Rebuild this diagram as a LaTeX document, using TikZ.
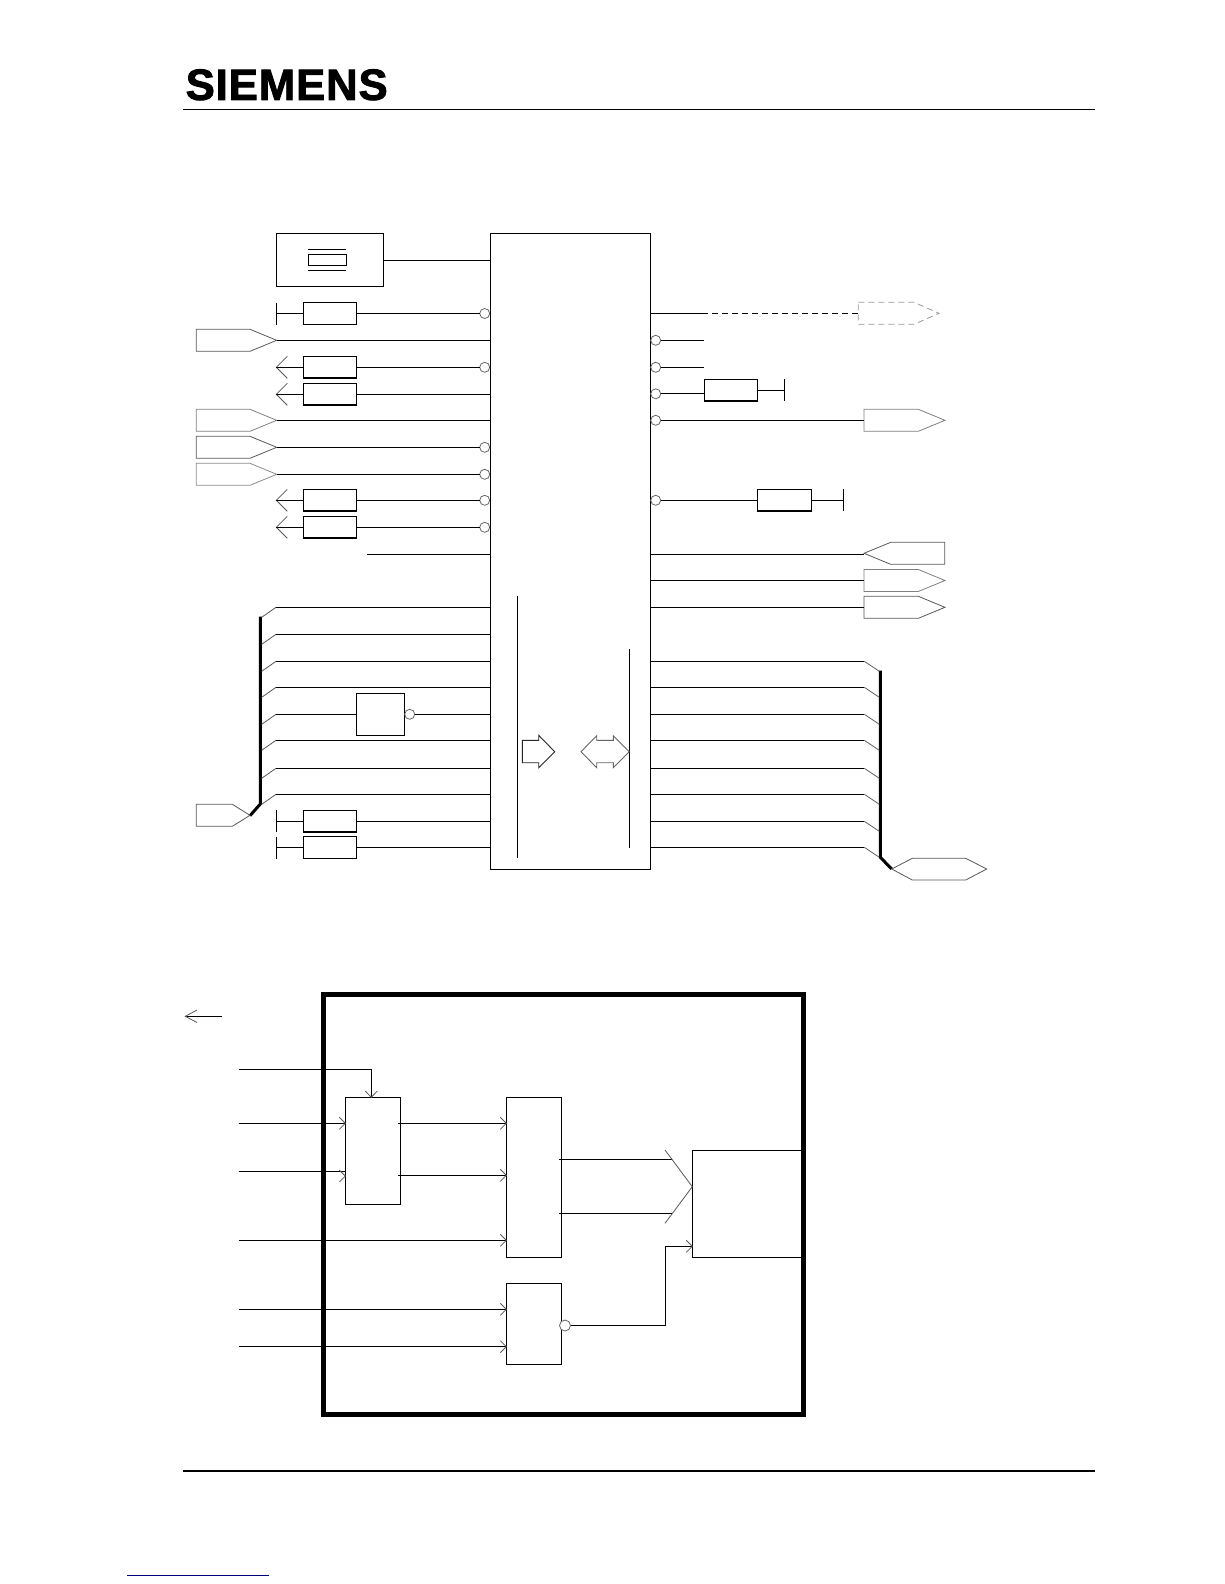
\documentclass[tikz,border=0pt]{standalone}
\usepackage{fontspec}
\usepackage{graphicx}
\setmainfont{Liberation Sans}
\newfontfamily\logofont[UprightFont=* Bold,FakeBold=2,LetterSpace=2]{Liberation Sans}
\tikzset{
  x=1pt,y=-1pt,
  wire/.style={line width=1.1pt,black},
  thinw/.style={line width=0.8pt,black!65},
  thick bus/.style={line width=3pt,black},
  res/.style={draw=black,line width=1.1pt,minimum width=53.4pt,minimum height=21.4pt,inner sep=0pt,outer sep=0pt,fill=white},
  blockbox/.style={draw=black,line width=1.1pt,inner sep=0pt,outer sep=0pt},
  bub/.style={circle,draw=black!60,line width=0.8pt,minimum size=10pt,inner sep=0pt,outer sep=0pt,fill=white},
  bar/.style={line width=1.1pt,black},
  tag/.style={line width=0.8pt,draw=black!65,fill=white,line join=miter},
}
\newcommand{\pentR}[6]{\draw[tag,#6] (#2,#4-11) -- (#3,#4-11) -- (#5,#4) -- (#3,#4+11) -- (#2,#4+11) -- cycle; \coordinate (#1) at (#5,#4); \coordinate (#1w) at (#2,#4);}
\newcommand{\chevL}[3]{\draw[thinw] (#2+11,#3-11) -- (#2,#3) -- (#2+11,#3+11); \coordinate (#1) at (#2,#3);}
\newcommand{\chevR}[3]{\draw[thinw] (#2-6,#3-6) -- (#2,#3) -- (#2-6,#3+6); \coordinate (#1) at (#2,#3);}
\newcommand{\Tbar}[3]{\draw[bar] (#2,#3-11) -- (#2,#3+11); \coordinate (#1) at (#2,#3);}
\begin{document}
\begin{tikzpicture}
\useasboundingbox (0,0) rectangle (1224,1584);
\fill[white] (0,0) rectangle (1224,1584);

% header and footer
\node[anchor=south west,inner sep=0pt] (logo) at (185.5,100.5) {\resizebox{202pt}{!}{\logofont SIEMENS}};
\coordinate (hl) at (183,109.5); \coordinate (hr) at (1095,109.5);
\draw[line width=1.1pt] (hl) -- (hr);
\coordinate (fl) at (183,1471); \coordinate (fr) at (1095,1471);
\draw[line width=2pt] (fl) -- (fr);
\coordinate (ul) at (127,1575); \coordinate (ur) at (269,1575);
\draw[line width=1pt,color=blue!50!black] (ul) -- (ur);

% main block
\node[blockbox,minimum width=160pt,minimum height=636pt,anchor=north west] (main) at (490.3,233.3) {};
\coordinate (vla) at (517.3,596); \coordinate (vlb) at (517.3,858.3);
\coordinate (vra) at (629.3,649.3); \coordinate (vrb) at (629.3,847.7);
\draw[wire] (vla) -- (vlb);
\draw[wire] (vra) -- (vrb);
\draw[line width=0.9pt,black!85,line join=miter] (522.3,740.3) -- (538.7,740.3) -- (538.7,735.3) -- (554.7,751.7) -- (538.7,767.7) -- (538.7,762.7) -- (522.3,762.7) -- cycle;
\draw[line width=0.9pt,black!60,line join=miter] (581,751.7) -- (596.7,735.7) -- (596.7,740.3) -- (613.3,740.3) -- (613.3,735.7) -- (629.3,751.7) -- (613.3,767.7) -- (613.3,762.7) -- (596.7,762.7) -- (596.7,767.7) -- cycle;

% crystal
\node[blockbox,minimum width=107pt,minimum height=53pt,anchor=north west] (xtal) at (276.3,233.3) {};
\node[blockbox,minimum width=38.4pt,minimum height=11.4pt] (xc) at (327.5,260) {};
\coordinate (xp1a) at (308,249.3); \coordinate (xp1b) at (346,249.3);
\coordinate (xp2a) at (308,270.3); \coordinate (xp2b) at (346,270.3);
\draw[wire] (xp1a) -- (xp1b);
\draw[wire] (xp2a) -- (xp2b);
\coordinate (xo) at (383.3,260.5);
\draw[wire] (xo) -- (xo -| main.west);

% left side, row 313
\node[res] (r1) at (330,313.5) {};
\Tbar{b1}{276.3}{313.5}
\node[bub] (c1) at (484.7,313.5) {};
\draw[wire] (b1) -- (r1.west);
\draw[wire] (r1.east) -- (c1.west);
\foreach \yy/\nn in {367.3/c2,447.3/c5,474.3/c6,500.3/c7,527.3/c8}
  \node[bub] (\nn) at (484.7,\yy) {};

% tags left
\pentR{p1}{196.3}{250}{340.3}{276.7}{}
\draw[wire] (p1) -- (p1 -| main.west);
\pentR{p2}{196.3}{250}{420.3}{276.7}{draw=black!50}
\draw[wire] (p2) -- (p2 -| main.west);
\pentR{p3}{196.3}{250}{447.3}{276.7}{}
\draw[wire] (p3) -- (c5.west);
\pentR{p4}{196.3}{250}{474.3}{276.7}{draw=black!45}
\draw[wire] (p4) -- (c6.west);

% left arrows with resistors
\node[res] (r2) at (330,367.3) {};
\chevL{a2}{276.3}{367.3}
\draw[wire] (a2) -- (r2.west);
\draw[wire] (r2.east) -- (c2.west);
\node[res] (r3) at (330,394.3) {};
\chevL{a3}{276.3}{394.3}
\draw[wire] (a3) -- (r3.west);
\draw[wire] (r3.east) -- (r3.east -| main.west);
\node[res] (r4) at (330,500.3) {};
\chevL{a4}{276.3}{500.3}
\draw[wire] (a4) -- (r4.west);
\draw[wire] (r4.east) -- (c7.west);
\node[res] (r5) at (330,527.3) {};
\chevL{a5}{276.3}{527.3}
\draw[wire] (a5) -- (r5.west);
\draw[wire] (r5.east) -- (c8.west);
\coordinate (s1) at (367,554.3);
\draw[wire] (s1) -- (s1 -| main.west);

% left bus
\coordinate (lb1) at (260.3,616.7); \coordinate (lb2) at (260.3,804); \coordinate (lb3) at (250,815.7);
\draw[thick bus,line join=miter] (lb1) -- (lb2) -- (lb3);
\pentR{p5}{196.3}{232.3}{815.3}{250}{}
\foreach \yy [count=\i] in {607.3,634.3,661.3,687.3,714.3,740.3,768.3,794.3}{
  \coordinate (lt\i) at (276,\yy);
  \draw[thinw] (lt\i) -- (261.7,\yy+10);
}
\foreach \i in {1,2,3,4,6,7,8}
  \draw[wire] (lt\i) -- (lt\i -| main.west);
\node[blockbox,minimum width=48.4pt,minimum height=42pt] (inv) at (380.5,714.3) {};
\node[bub] (cinv) at (409.7,714.3) {};
\draw[wire] (lt5) -- (inv.west);
\draw[wire] (cinv.east) -- (cinv.east -| main.west);
\node[res] (r6) at (330,821.3) {};
\Tbar{b6}{276.3}{821.3}
\draw[wire] (b6) -- (r6.west);
\draw[wire] (r6.east) -- (r6.east -| main.west);
\node[res] (r7) at (330,847.5) {};
\Tbar{b7}{276.3}{847.5}
\draw[wire] (b7) -- (r7.west);
\draw[wire] (r7.east) -- (r7.east -| main.west);

% right side
\foreach \yy/\nn in {340.3/d1,367.3/d2,393.8/d3,420.3/d4,500.3/d5}
  \node[bub] (\nn) at (655.7,\yy) {};
\coordinate (q0) at (650.3,313.3); \coordinate (q0b) at (708,313.3);
\draw[wire] (q0) -- (q0b);
\pentR{pd}{858.3}{914}{313.3}{939}{dashed,draw=black!40,dash pattern=on 6pt off 4pt}
\draw[wire,dash pattern=on 6pt off 4pt,dash phase=6pt] (q0b) -- (pdw);
\coordinate (e1) at (703.7,340.3); \coordinate (e2) at (703.7,367.3);
\draw[wire] (d1.east) -- (e1);
\draw[wire] (d2.east) -- (e2);
\node[res] (r8) at (730.8,390.3) {};
\draw[wire] (d3.east) -- (d3.east -| r8.west);
\Tbar{b8}{784.3}{390.3}
\draw[wire] (r8.east) -- (b8);
\pentR{p6}{864}{918.3}{420.3}{945}{draw=black!50}
\draw[wire] (d4.east) -- (d4.east -| p6w);
\node[res] (r9) at (784.5,500.3) {};
\draw[wire] (d5.east) -- (r9.west);
\Tbar{b9}{843.3}{500.3}
\draw[wire] (r9.east) -- (b9);
% reverse tag
\draw[tag] (864,553.3) -- (890.7,542.3) -- (944.7,542.3) -- (944.7,564.3) -- (890.7,564.3) -- cycle;
\coordinate (p7) at (864,554.3);
\draw[wire] (p7) -- (p7 -| main.east);
\pentR{p8}{864}{918.3}{580.5}{945}{draw=black!50}
\draw[wire] (p8w) -- (p8w -| main.east);
\pentR{p9}{864}{918.3}{607.3}{945}{}
\draw[wire] (p9w) -- (p9w -| main.east);

% right bus
\coordinate (rb1) at (880.3,670.7); \coordinate (rb2) at (880.3,857.3); \coordinate (rb3) at (891.7,869);
\draw[thick bus,line join=miter] (rb1) -- (rb2) -- (rb3);
\foreach \yy [count=\i] in {661.3,687.3,714.3,740.3,768.3,794.3,821.3,847.3}{
  \coordinate (rt\i) at (864.3,\yy);
  \draw[wire] (rt\i) -- (rt\i -| main.east);
  \draw[thinw] (rt\i) -- (879.3,\yy+10);
}
\draw[tag] (891.7,869) -- (912.3,858.3) -- (965.7,858.3) -- (986.7,869) -- (965.7,880) -- (912.3,880) -- cycle;

% lower diagram
\node[draw=black,line width=4.6pt,minimum width=479.6pt,minimum height=420pt,inner sep=0pt,outer sep=0pt,anchor=north west] (outer) at (323.7,994.7) {};
\coordinate (lega) at (222.3,1016.3);
\coordinate (legb) at (185.3,1016.3);
\draw[wire] (lega) -- (legb);
\draw[thinw] (197,1010) -- (legb) -- (197,1022.5);

\node[blockbox,minimum width=55.4pt,minimum height=107pt,anchor=north west] (A) at (345.3,1097.3) {};
\node[blockbox,minimum width=55.4pt,minimum height=160pt,anchor=north west] (B) at (506.3,1097.3) {};
\node[blockbox,minimum width=55.4pt,minimum height=81pt,anchor=north west] (C) at (506.3,1283.3) {};
\node[blockbox,minimum width=110.7pt,minimum height=107pt,anchor=north west] (D) at (692.3,1150.3) {};

\coordinate (i1) at (238.7,1069.3);
\coordinate (at) at (371.3,1097.3);
\draw[wire] (i1) -| (at);
\draw[thinw] (365.3,1091) -- (at) -- (377.3,1091);
\coordinate (i2) at (238.7,1123.3);
\draw[wire] (i2) -- (i2 -| A.west);
\chevR{k2}{345.3}{1123.3}
\coordinate (i3) at (238.7,1171.3);
\draw[wire] (i3) -- (i3 -| A.west);
\chevR{k3}{345.3}{1176}
\coordinate (o1) at (398.3,1123.3);
\coordinate (o2) at (398.3,1175.3);
\draw[wire] (o1) -- (o1 -| B.west);
\chevR{k4}{506.3}{1123.3}
\draw[wire] (o2) -- (o2 -| B.west);
\chevR{k5}{506.3}{1175.3}
\coordinate (i4) at (238.7,1240.3);
\draw[wire] (i4) -- (i4 -| B.west);
\chevR{k6}{506.3}{1240.3}
\coordinate (i5) at (238.7,1309.3);
\draw[wire] (i5) -- (i5 -| C.west);
\chevR{k7}{506.3}{1309.3}
\coordinate (i6) at (238.7,1346.7);
\draw[wire] (i6) -- (i6 -| C.west);
\chevR{k8}{506.3}{1346.7}
\node[bub,minimum size=11pt] (cc) at (565,1325.5) {};
\coordinate (cor) at (665.3,1246.3);
\draw[wire] (cc.east) -| (cor) -- (cor -| D.west);
\chevR{k9}{692.3}{1246.3}
\coordinate (u1) at (559.3,1159.3); \coordinate (u1b) at (671.7,1159.3);
\coordinate (u2) at (559.3,1213.3); \coordinate (u2b) at (671.7,1213.3);
\draw[wire] (u1) -- (u1b);
\draw[wire] (u2) -- (u2b);
\draw[thinw] (665,1150) -- (692.3,1186.7) -- (665,1223.3);
\end{tikzpicture}
\end{document}
